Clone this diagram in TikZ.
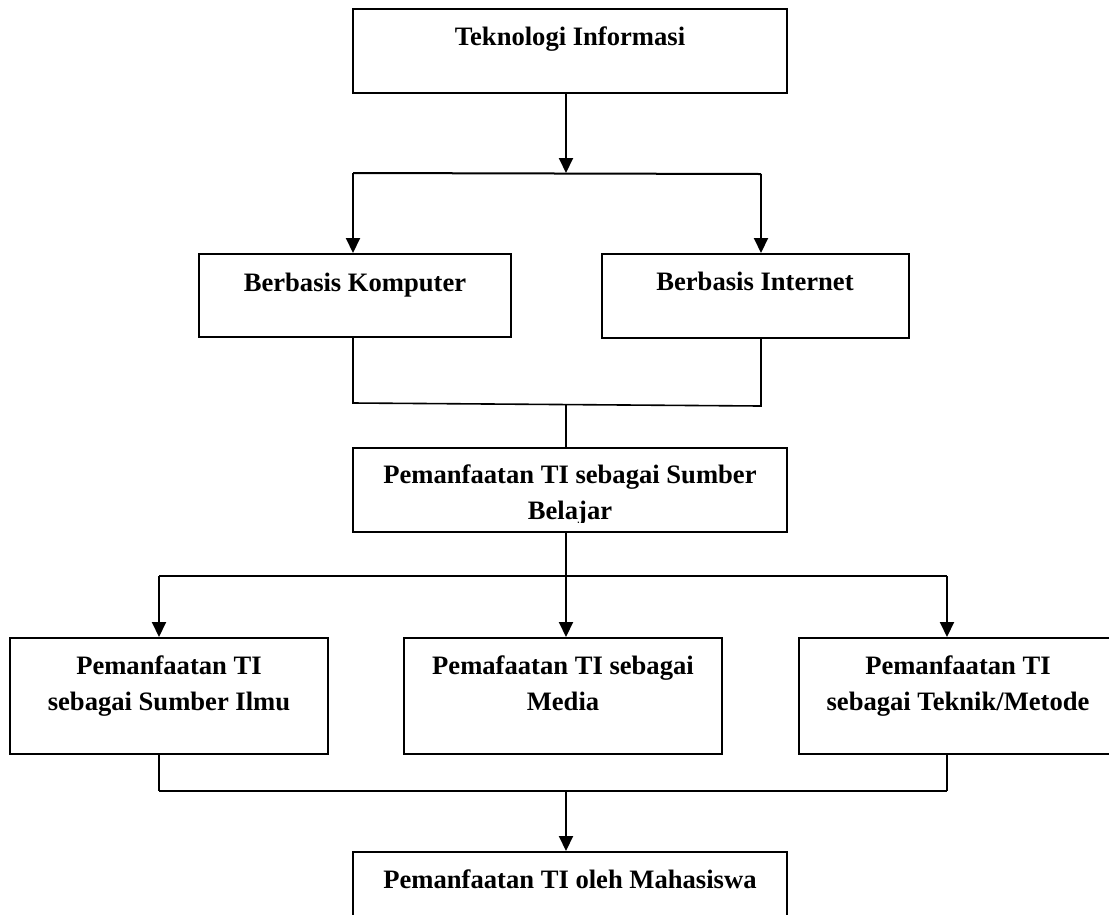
\documentclass[tikz,border=0pt]{standalone}
\usepackage{fontspec}
\setmainfont{Liberation Serif}
\usetikzlibrary{arrows.meta}
\begin{document}
\begin{tikzpicture}[x=1pt,y=-1pt,
  box/.style={draw, line width=2pt, rectangle, inner sep=0pt},
  lbl/.style={font=\fontsize{26.6}{36}\selectfont\bfseries, align=center, inner sep=0pt, anchor=north},
  conn/.style={line width=2pt},
  thinconn/.style={line width=1.6pt},
  arr/.style={line width=2pt, -{Triangle[length=15pt,width=14pt]}}]
\useasboundingbox (0,0) rectangle (1109,914);
\clip (0,0) rectangle (1109,914);

% boxes
\node[box, minimum width=434pt, minimum height=84pt] (ti) at (570,51) {};
\node[box, minimum width=312pt, minimum height=83pt] (bk) at (355,295.5) {};
\node[box, minimum width=307pt, minimum height=84pt] (bi) at (755.5,296) {};
\node[box, minimum width=434pt, minimum height=84pt] (sb) at (570,490) {};
\node[box, minimum width=318pt, minimum height=116pt] (b1) at (169,696) {};
\node[box, minimum width=318pt, minimum height=116pt] (b2) at (563,696) {};
\node[box, minimum width=318pt, minimum height=116pt] (b3) at (958,696) {};
\node[box, minimum width=434pt, minimum height=84pt] (mh) at (570,894) {};

% labels
\node[lbl] (tit) at (570,27) {Teknologi Informasi};
\node[lbl] (bkt) at (355,273) {Berbasis Komputer};
\node[lbl] (bit) at (755,272) {Berbasis Internet};
\begin{scope}
  \clip (355,450) rectangle (785,522);
  \node[lbl] (sbt) at (570,465) {Pemanfaatan TI sebagai Sumber\\Belajar};
\end{scope}
\node[lbl] (b1t) at (169,656) {Pemanfaatan TI\\sebagai Sumber Ilmu};
\node[lbl] (b2t) at (563,656) {Pemafaatan TI sebagai\\Media};
\node[lbl] (b3t) at (958,656) {Pemanfaatan TI\\sebagai Teknik/Metode};
\node[lbl] (mht) at (570,870) {Pemanfaatan TI oleh Mahasiswa};

% junction points
\coordinate (s1) at (566,173);
\coordinate (s1l) at (353,173);
\coordinate (s1r) at (761,174);
\coordinate (m1l) at (353,403);
\coordinate (m1r) at (761,406);
\coordinate (m1) at (566,404.5);
\coordinate (s2) at (566,576);
\coordinate (s2l) at (159,576);
\coordinate (s2r) at (947,576);
\coordinate (m2) at (566,791);
\coordinate (m2l) at (159,791);
\coordinate (m2r) at (947,791);

% connectors
\draw[arr] (ti.south -| s1) -- (s1);
\draw[conn] (s1l) -- (s1r);
\draw[arr] (s1l) -- (bk.north -| s1l);
\draw[arr] (s1r) -- (bi.north -| s1r);

\draw[thinconn] (bk.south -| m1l) -- (m1l) -- (m1r) -- (bi.south -| m1r);
\draw[thinconn] (m1) -- (sb.north -| m1);

\draw[conn] (sb.south -| s2) -- (s2);
\draw[conn] (s2l) -- (s2r);
\draw[arr] (s2l) -- (b1.north -| s2l);
\draw[arr] (s2) -- (b2.north -| s2);
\draw[arr] (s2r) -- (b3.north -| s2r);

\draw[thinconn] (b1.south -| m2l) -- (m2l);
\draw[thinconn] (b3.south -| m2r) -- (m2r);
\draw[conn] (m2l) -- (m2r);
\draw[arr] (m2) -- (mh.north -| m2);
\end{tikzpicture}
\end{document}
